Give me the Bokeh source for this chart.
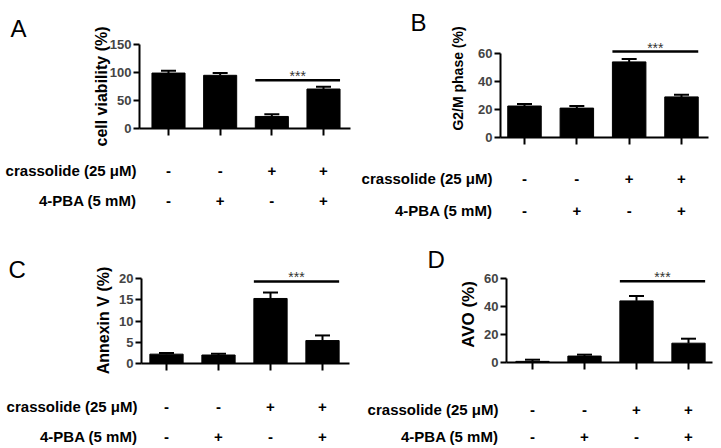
import math
from bokeh.plotting import figure
from bokeh.models import (Range1d, FixedTicker, LinearAxis, Whisker, TeeHead,
                          ColumnDataSource)
from bokeh.core.properties import value
from bokeh.layouts import row, column
from bokeh.embed import file_html
from bokeh.resources import INLINE

# ---------------- data ----------------
groups = [1, 2, 3, 4]
crassolide_signs = ["-", "-", "+", "+"]
pba_signs = ["-", "+", "-", "+"]
row_labels = ["crassolide (25 \u03bcM)", "4-PBA (5 mM)"]

viability = [99, 95, 21.5, 70.5]
viability_err = [4, 4, 4, 4]
viability_ticks = [0, 50, 100, 150]

g2m = [22.5, 21, 54, 29]
g2m_err = [1.5, 1.5, 2, 1.5]
g2m_ticks = [0, 20, 40, 60]

annexin = [2.2, 2.0, 15.3, 5.4]
annexin_err = [0.3, 0.3, 1.4, 1.2]
annexin_ticks = [0, 5, 10, 15, 20]

avo = [0.8, 4.6, 44, 13.8]
avo_err = [1.2, 1.0, 3.5, 3.2]
avo_ticks = [0, 20, 40, 60]

sig_groups = (3, 4)
sig_text = "***"
sig_levels = {"A": 86, "B": 61.4, "C": 19.3, "D": 58}

FONT = "Liberation Sans"
BAR_W = 0.64


def panel(letter, vals, errs, ticks, ylabel, geom):
    # geom: pixel layout of this panel (page coordinates)
    x0, y0, w, h = geom["box"]
    ax, t1, t4, xend = geom["x"]
    zy, ty = geom["y"]
    sx = (t4 - t1) / 3.0
    sy = (zy - ty) / ticks[-1]
    xr = Range1d(1 - (t1 - x0) / sx, 4 + (x0 + w - t4) / sx)
    yr = Range1d(-(y0 + h - zy) / sy, (zy - y0) / sy)
    xb = (1 - (t1 - ax) / sx, 4 + (xend - t4) / sx)

    p = figure(width=w, height=h, x_range=xr, y_range=yr, output_backend="svg",
               toolbar_location=None, x_axis_type=None, y_axis_type=None,
               min_border_left=0, min_border_right=0, min_border_top=0,
               min_border_bottom=0)
    p.xgrid.visible = False
    p.ygrid.visible = False
    p.outline_line_color = None

    # bars + SEM
    src = ColumnDataSource(dict(x=groups, top=vals,
                                upper=[v + e for v, e in zip(vals, errs)]))
    p.vbar(x="x", top="top", bottom=0, width=BAR_W, source=src,
           fill_color="black", line_color="black")
    p.add_layout(Whisker(base="x", lower="top", upper="upper", dimension="height",
                         source=src, line_color="black", line_width=2, lower_head=None,
                         upper_head=TeeHead(size=15, line_width=2, line_color="black")))

    # significance
    lvl = sig_levels[letter]
    p.segment(x0=[sig_groups[0] - BAR_W / 2], x1=[sig_groups[1] + BAR_W / 2],
              y0=[lvl], y1=[lvl], line_color="black", line_width=2.5)
    p.text(x=[(sig_groups[0] + sig_groups[1]) / 2], y=[lvl], text=[sig_text],
           text_align="center", text_baseline="alphabetic", y_offset=-4,
           text_font=value(FONT), text_font_size="14px", text_color="#333333")

    # y axis (drawn at the left end of the x axis)
    ya = LinearAxis(fixed_location=xb[0], ticker=FixedTicker(ticks=ticks),
                    bounds=(ticks[0], ticks[-1]),
                    major_label_text_font=FONT, major_label_text_font_style="bold",
                    major_label_text_font_size="13px", major_label_standoff=2,
                    major_tick_in=0, major_tick_out=6, minor_tick_line_color=None,
                    axis_line_width=2, major_tick_line_width=2)
    p.add_layout(ya, "left")
    # x axis at y = 0
    xa = LinearAxis(fixed_location=0, ticker=FixedTicker(ticks=groups), bounds=xb,
                    major_label_overrides={g: "" for g in groups},
                    major_tick_in=0, major_tick_out=7, minor_tick_line_color=None,
                    axis_line_width=2, major_tick_line_width=2)
    p.add_layout(xa, "below")

    # y axis title
    lx, ly, lsize = geom["ylabel"]
    p.text(x=[xb[0]], y=[0], text=[ylabel], angle=math.pi / 2, x_offset=lx - ax,
           y_offset=ly - zy, text_align="center", text_baseline="middle",
           text_font=value(FONT), text_font_style="bold", text_font_size=lsize,
           text_color="black")

    # panel letter
    lx, lb = geom["letter"]
    p.text(x=[xr.start], y=[yr.end], text=[letter], x_offset=lx - x0, y_offset=lb - y0,
           text_align="left", text_baseline="alphabetic", text_font=value(FONT),
           text_font_size="24px", text_color="black")

    # treatment table
    rx, ry1, ry2 = geom["rows"]
    for signs, ry, lab in zip([crassolide_signs, pba_signs], [ry1, ry2], row_labels):
        p.text(x=groups, y=[0] * len(groups), text=signs, y_offset=ry - zy,
               text_align="center", text_baseline="middle", text_font=value(FONT),
               text_font_style="bold", text_font_size="15px", text_color="black")
        p.text(x=[xb[0]], y=[0], text=[lab], x_offset=rx - ax, y_offset=ry - zy,
               text_align="right", text_baseline="middle", text_font=value(FONT),
               text_font_style="bold", text_font_size="15px", text_color="black")
    return p


geomA = dict(box=(0, 0, 358, 222), x=(139, 168, 323, 350), y=(128, 44),
             ylabel=(101, 86, "16px"), letter=(10, 28), rows=(136, 170, 200))
geomB = dict(box=(358, 0, 362, 222), x=(500, 524, 681, 708), y=(137, 53),
             ylabel=(457, 78, "14px"), letter=(410, 22), rows=(492, 178, 210))
geomC = dict(box=(0, 222, 358, 225), x=(141, 166, 322, 349), y=(363, 278),
             ylabel=(103, 320, "16px"), letter=(8, 269), rows=(137, 406, 436))
geomD = dict(box=(358, 222, 362, 225), x=(506, 532, 688, 712), y=(362, 278),
             ylabel=(468, 314, "17px"), letter=(427, 259), rows=(498, 409, 436))

pA = panel("A", viability, viability_err, viability_ticks, "cell viability (%)", geomA)
pB = panel("B", g2m, g2m_err, g2m_ticks, "G2/M phase (%)", geomB)
pC = panel("C", annexin, annexin_err, annexin_ticks, "Annexin V (%)", geomC)
pD = panel("D", avo, avo_err, avo_ticks, "AVO (%)", geomD)

layout = column(row(pA, pB, spacing=0), row(pC, pD, spacing=0), spacing=0)

open("out.html", "w").write(file_html(layout, INLINE))
